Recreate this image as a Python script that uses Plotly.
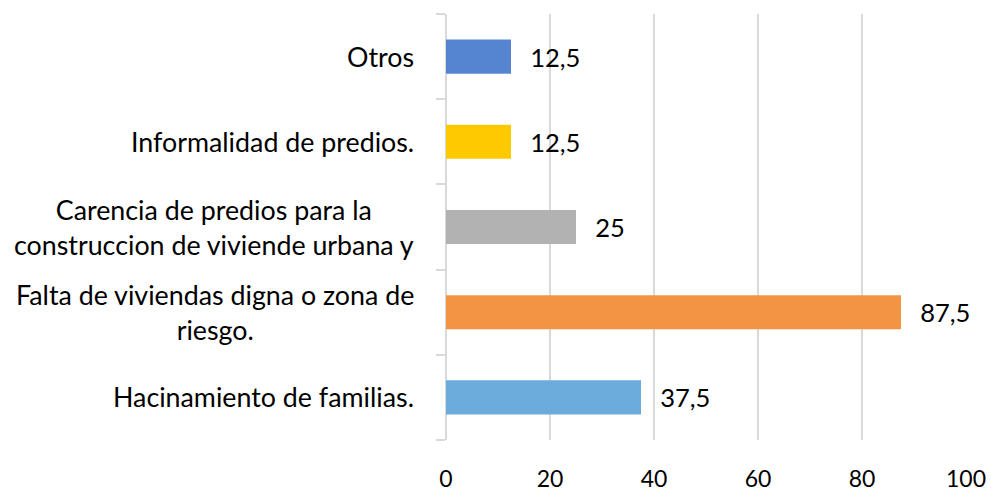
import plotly.graph_objects as go

categories = [
    "Hacinamiento de familias.",
    "Falta de viviendas digna o zona de<br>riesgo.",
    "Carencia de predios para la<br>construccion de viviende urbana y",
    "Informalidad de predios.",
    "Otros",
]
values = [37.5, 87.5, 25, 12.5, 12.5]
colors = ["#6BACDC", "#F29443", "#B2B2B2", "#FFC900", "#5585D0"]
x_ticks = [0, 20, 40, 60, 80, 100]

FONT = "Lato"
labels = ["\u00a0\u00a0\u2009" + f"{v:g}".replace(".", ",") for v in values]

fig = go.Figure()
fig.add_trace(go.Bar(
    y=categories, x=values, orientation="h",
    marker=dict(color=colors, line=dict(width=0)),
    text=labels, textposition="outside", cliponaxis=False,
    textfont=dict(family=FONT, size=25.5, color="#000000"),
))

for c in categories:
    fig.add_annotation(
        x=0, xref="paper", y=c, yref="y", text=c, showarrow=False,
        xanchor="right", xshift=-30, align="center",
        font=dict(family=FONT, size=26.8, color="#000000"),
    )

fig.update_layout(
    width=991, height=491,
    margin=dict(l=446, r=25, t=14, b=51, autoexpand=False),
    paper_bgcolor="white", plot_bgcolor="white",
    showlegend=False, bargap=0.6,
    font=dict(family=FONT, size=24, color="#000000"),
)
fig.update_xaxes(
    range=[0, 100], tickvals=x_ticks, showgrid=True, gridcolor="#D9D9D9", gridwidth=1.5,
    zeroline=True, zerolinecolor="#D9D9D9", zerolinewidth=1.5, showline=False,
    ticks="", ticklabelstandoff=23, automargin=False,
    tickfont=dict(family=FONT, size=23, color="#000000"),
)
fig.update_yaxes(
    type="category", categoryorder="array", categoryarray=categories,
    showticklabels=False, ticks="outside", tickson="boundaries", ticklen=9,
    tickcolor="#D9D9D9", tickwidth=1.5, showgrid=False, showline=False, automargin=False,
)

fig.write_html(
    "out.html",
    config={"displayModeBar": False},
    post_script="document.body.style.margin='0';document.body.style.overflow='hidden';",
)
